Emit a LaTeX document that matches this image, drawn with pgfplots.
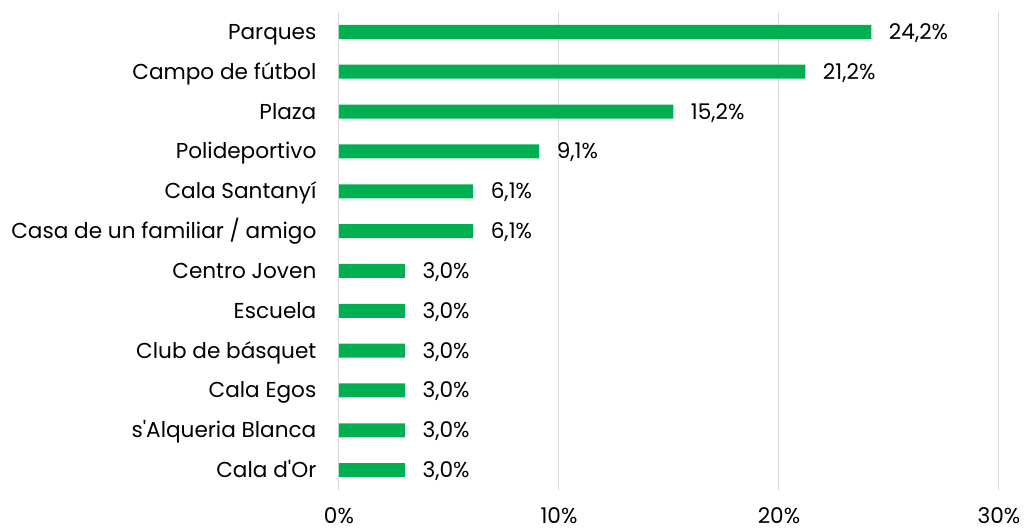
\documentclass[border=0pt]{standalone}
\usepackage{pgfplots}
\pgfplotsset{compat=1.18}
\usepackage{fontspec}
\setmainfont{Poppins}
\definecolor{bargreen}{RGB}{0,176,80}
\definecolor{gridgray}{RGB}{217,217,217}
\pgfkeys{/pgf/number format/assume math mode=true}

\begin{document}
\begin{tikzpicture}
\begin{axis}[
    scale only axis,
    width=495pt, height=358.5pt,
    xbar,
    bar width=10.5pt,
    xmin=0, xmax=30,
    ymin=-0.5, ymax=11.5,
    xtick={0,10,20,30},
    xticklabels={0\%,10\%,20\%,30\%},
    ytick={0,...,11},
    yticklabels={Cala d\textquotesingle Or, s\textquotesingle Alqueria Blanca, Cala Egos, Club de básquet, Escuela, Centro Joven,
      Casa de un familiar / amigo, Cala Santanyí, Polideportivo, Plaza, Campo de fútbol, Parques},
    axis line style={draw=none},
    tick style={draw=none},
    xmajorgrids,
    grid style={draw=gridgray, line width=0.75pt},
    ticklabel style={font=\fontsize{16.2pt}{19pt}\selectfont, inner sep=0pt},
    xticklabel style={yshift=-13pt},
    yticklabel style={anchor=base east, xshift=-12.5pt, yshift=-5.6pt},
    nodes near coords={\pgfmathprintnumber[fixed, fixed zerofill, precision=1, use comma]{\pgfplotspointmeta}\%},
    nodes near coords style={font=\fontsize{16.2pt}{19pt}\selectfont, anchor=base west, inner sep=0pt, xshift=13pt, yshift=-5.6pt},
]
\addplot[fill=bargreen, draw=none] coordinates {
  (3.0,0) (3.0,1) (3.0,2) (3.0,3) (3.0,4) (3.0,5)
  (6.1,6) (6.1,7) (9.1,8) (15.2,9) (21.2,10) (24.2,11)
};
\coordinate (bl) at (rel axis cs:-0.5136,-0.0858);
\coordinate (tr) at (rel axis cs:1.05,1.0251);
\end{axis}
\pgfresetboundingbox
\path[use as bounding box] (bl) rectangle (tr);
\end{tikzpicture}
\end{document}
